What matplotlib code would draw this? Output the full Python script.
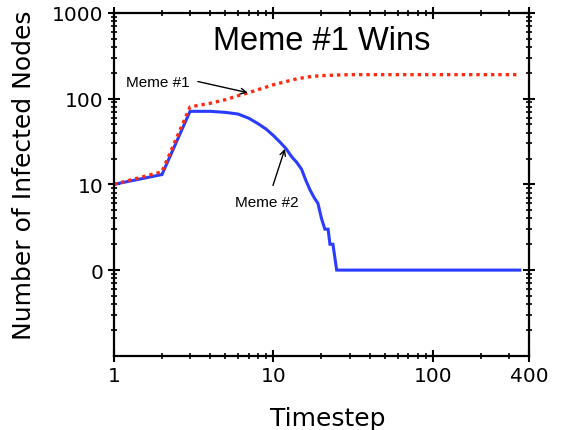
import matplotlib
matplotlib.use("Agg")
import matplotlib.pyplot as plt
from matplotlib.ticker import LogLocator, FixedLocator, NullFormatter

# Infection counts per timestep (count 0 is drawn at 1 on the log axis and labelled "0")
meme1_t = [1, 2, 3, 4, 5, 6, 7, 8, 9, 10, 12, 14, 17, 20, 25, 30, 40, 60, 100, 200, 350]
meme1_n = [10, 14, 80, 88, 97, 108, 117, 127, 136, 145, 158, 170, 180, 185, 188, 190, 190, 190, 190, 190, 190]

meme2_t = [1, 2, 3, 4, 5, 6, 7, 8, 9, 10, 11, 12, 13, 14, 15, 16, 17, 18, 19, 20,
           21, 22, 22.6, 23.6, 24.9, 350]
meme2_n = [10, 13, 71, 71, 69, 66, 59, 51, 44, 37, 31, 26, 21, 18, 15, 11, 8.5, 7, 6, 4,
           3, 3, 2, 2, 1, 1]

y_ticks = [1000, 100, 10, 1]
y_tick_labels = ["1000", "100", "10", "0"]
x_ticks = [1, 10, 100, 400]
x_tick_labels = ["1", "10", "100", "400"]

fig = plt.figure(figsize=(5.64, 4.31), dpi=100)
ax = fig.add_axes([0.202, 0.172, 0.736, 0.796])

ax.plot(meme2_t, meme2_n, color="#2a3cff", lw=2.2, solid_joinstyle="miter")
ax.plot(meme1_t, meme1_n, color="#ff2a10", lw=2.4, ls=(0, (1, 1.2)))

ax.set_xscale("log")
ax.set_yscale("log")
ax.set_xlim(1, 400)
ax.set_ylim(0.1, 1000)

ax.xaxis.set_major_locator(FixedLocator(x_ticks))
ax.set_xticklabels(x_tick_labels)
ax.xaxis.set_minor_locator(LogLocator(base=10, subs=range(2, 10), numticks=20))
ax.xaxis.set_minor_formatter(NullFormatter())
ax.yaxis.set_major_locator(FixedLocator(y_ticks))
ax.set_yticklabels(y_tick_labels)
ax.yaxis.set_minor_locator(LogLocator(base=10, subs=range(2, 10), numticks=20))
ax.yaxis.set_minor_formatter(NullFormatter())

ax.tick_params(which="both", direction="inout", top=True, right=True, width=1.5)
ax.tick_params(which="major", length=9, labelsize=14.5, pad=3)
ax.tick_params(which="minor", length=4.5, width=1.2)
for s in ax.spines.values():
    s.set_linewidth(1.6)

ax.set_xlabel("Timestep", fontsize=18)
ax.set_ylabel("Number of Infected Nodes", fontsize=18)
ax.xaxis.set_label_coords(0.516, -0.145)
ax.yaxis.set_label_coords(-0.187, 0.53)

ax.text(0.5, 0.92, "Meme #1 Wins", transform=ax.transAxes, ha="center", va="center",
        fontsize=23.5, family="Liberation Sans")

ax.text(1.89, 158, "Meme #1", ha="center", va="center", fontsize=11, family="Liberation Sans")
ax.annotate("", xy=(6.9, 117), xytext=(3.36, 158),
            arrowprops=dict(arrowstyle="->", color="black", lw=1, shrinkA=0, shrinkB=0))
ax.text(9.1, 6.3, "Meme #2", ha="center", va="center", fontsize=11, family="Liberation Sans")
ax.annotate("", xy=(11.8, 26), xytext=(9.93, 9.7),
            arrowprops=dict(arrowstyle="->", color="black", lw=1, shrinkA=0, shrinkB=0))

fig.savefig("out.png", dpi=100)
